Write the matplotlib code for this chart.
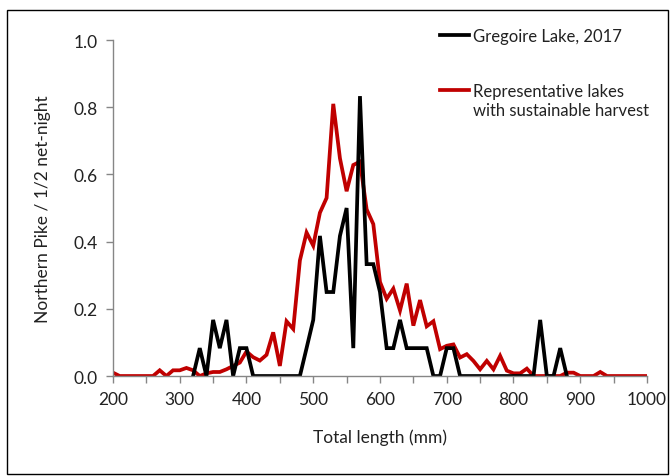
import matplotlib
matplotlib.use("Agg")
import matplotlib.pyplot as plt
from matplotlib.lines import Line2D
from matplotlib.patches import Rectangle
from matplotlib.ticker import MultipleLocator, FormatStrFormatter

plt.rcParams["font.family"] = ["Lato", "DejaVu Sans"]

# total length bins (mm)
lengths = list(range(200, 1001, 10))

# representative lakes with sustainable harvest, 200..1000 mm
representative = [
    0.010, 0, 0, 0, 0, 0, 0, 0.017, 0, 0.017,            # 200-290
    0.017, 0.024, 0.017, 0, 0.008, 0.012, 0.012, 0.020, 0.030, 0.040,  # 300-390
    0.073, 0.056, 0.046, 0.063, 0.130, 0.030, 0.163, 0.140, 0.344, 0.427,  # 400-490
    0.388, 0.486, 0.530, 0.810, 0.648, 0.550, 0.628, 0.638, 0.496, 0.452,  # 500-590
    0.280, 0.230, 0.260, 0.195, 0.275, 0.150, 0.226, 0.148, 0.163, 0.080,  # 600-690
    0.090, 0.094, 0.055, 0.065, 0.045, 0.020, 0.045, 0.020, 0.060, 0.016,  # 700-790
    0.008, 0.008, 0.022, 0, 0, 0, 0, 0, 0.010, 0.010,    # 800-890
    0, 0, 0, 0.012, 0, 0, 0, 0, 0, 0,                    # 900-990
    0,                                                   # 1000
]

# Gregoire Lake 2017, 320..880 mm
gregoire_lengths = list(range(320, 881, 10))
gregoire = [
    0, 0.083, 0, 0.167, 0.083, 0.167, 0, 0.083, 0.083, 0,   # 320-410
    0, 0, 0, 0, 0, 0, 0, 0.083, 0.167, 0.417,               # 420-510
    0.25, 0.25, 0.417, 0.5, 0.083, 0.833, 0.333, 0.333, 0.25, 0.083,  # 520-610
    0.083, 0.167, 0.083, 0.083, 0.083, 0.083, 0, 0, 0.083, 0.083,     # 620-710
    0, 0, 0, 0, 0, 0, 0, 0, 0, 0,                           # 720-810
    0, 0, 0.167, 0, 0, 0.083, 0,                            # 820-880
]

red = "#C00000"
axis_grey = "#868686"
text_col = "#222222"

fig = plt.figure(figsize=(6.71, 4.77), dpi=100)
ax = fig.add_axes([0.1684, 0.2096, 0.7958, 0.7044])

ax.plot(lengths, representative, color=red, lw=2.7, solid_joinstyle="miter")
ax.plot(gregoire_lengths, gregoire, color="black", lw=2.7, solid_joinstyle="miter")

ax.set_xlim(200, 1000)
ax.set_ylim(0, 1.0)
ax.xaxis.set_major_locator(MultipleLocator(100))
ax.xaxis.set_minor_locator(MultipleLocator(50))
ax.yaxis.set_major_locator(MultipleLocator(0.2))
ax.yaxis.set_major_formatter(FormatStrFormatter("%.1f"))

for side in ("top", "right"):
    ax.spines[side].set_visible(False)
for side in ("left", "bottom"):
    ax.spines[side].set_color(axis_grey)
    ax.spines[side].set_linewidth(1.0)
ax.tick_params(which="both", length=5, width=1.0, color=axis_grey, labelsize=12.5,
               labelcolor=text_col)
ax.tick_params(axis="x", pad=6)
ax.tick_params(axis="y", pad=6)

ax.set_xlabel("Total length (mm)", fontsize=12.5, color=text_col, labelpad=15)
ax.set_ylabel("Northern Pike / 1/2 net-night", fontsize=12.5, color=text_col, labelpad=16)

handles = [Line2D([], [], color="black", lw=2.7), Line2D([], [], color=red, lw=2.7)]
leg = ax.legend(handles, ["Gregoire Lake, 2017", "Representative lakes"],
                loc="upper left", bbox_to_anchor=(0.600, 1.056), frameon=False,
                fontsize=12, handlelength=1.75, handletextpad=0.2, labelspacing=2.35,
                borderaxespad=0)
for t in leg.get_texts():
    t.set_color(text_col)
ax.text(0.674, 0.793, "with sustainable harvest", transform=ax.transAxes,
        fontsize=12, color=text_col, va="center", ha="left")

fig.patches.append(Rectangle((7 / 671, 2 / 477), 661 / 671, 464 / 477,
                             transform=fig.transFigure, fill=False,
                             edgecolor="black", lw=1.0))

fig.savefig("out.png", dpi=100)
